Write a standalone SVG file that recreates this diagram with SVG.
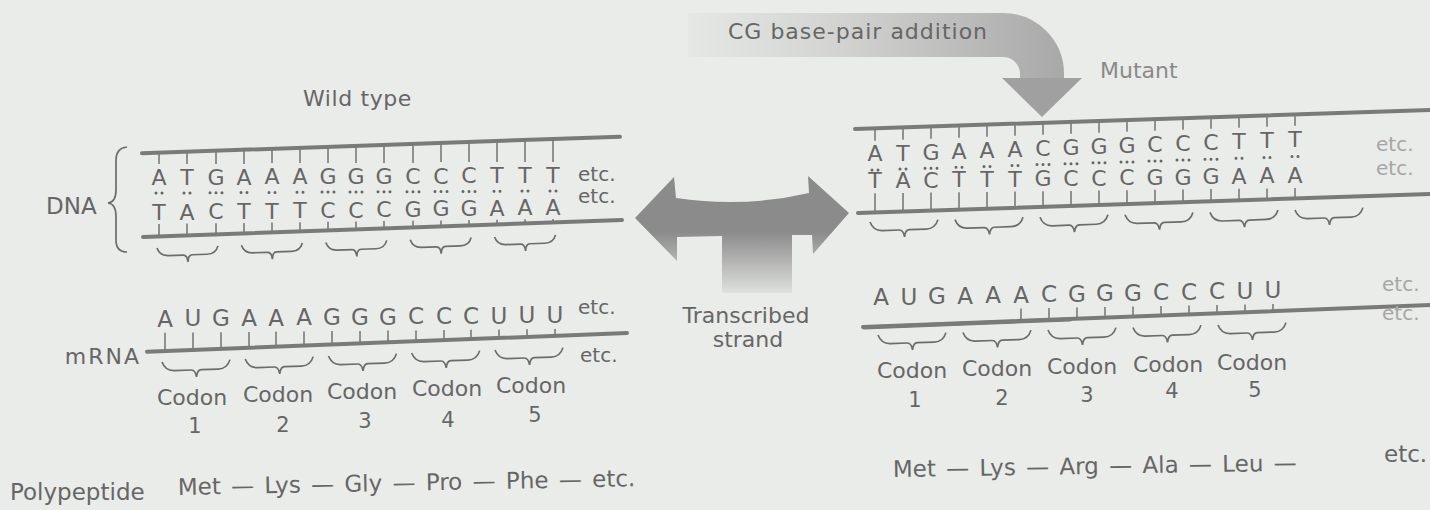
<svg xmlns="http://www.w3.org/2000/svg" xmlns:xlink="http://www.w3.org/1999/xlink" width="1430" height="510" viewBox="0 0 1430 510">
<style>
.t{font-family:"DejaVu Sans","Liberation Sans",sans-serif;fill:#666666}
.base{font-size:22px;text-anchor:middle}
.rna{font-size:23px;text-anchor:middle}
.lbl{font-size:22px}
.mid{text-anchor:middle}
.etc{font-size:20px}
.faint{fill:#a6a6a6}
.pp{font-size:23px;word-spacing:3px}
.strand{stroke:#7a7a7a;stroke-width:4;fill:none;stroke-linecap:round}
.tick{stroke:#7a7a7a;stroke-width:1.6;fill:none}
.dots{stroke:#666666;stroke-width:3;stroke-linecap:round;fill:none}
.brace{stroke:#6c6c6c;stroke-width:1.7;fill:none}
</style>
<defs>
<linearGradient id="gCurve" gradientUnits="userSpaceOnUse" x1="685" y1="0" x2="1065" y2="0">
<stop offset="0" stop-color="#e6e8e5"/>
<stop offset="0.4" stop-color="#d3d4d2"/>
<stop offset="1" stop-color="#a8a8a8"/>
</linearGradient>
<linearGradient id="gDouble" gradientUnits="userSpaceOnUse" x1="0" y1="232" x2="0" y2="295">
<stop offset="0" stop-color="#8b8b8b"/>
<stop offset="1" stop-color="#e2e4e1"/>
</linearGradient>
<path id="bS" d="M0,0 q2.5,8 11,8 h15 q4,0 4.5,7 q0.5,-7 4.5,-7 h15 q8.5,0 11,-8"/>
<path id="bL" d="M0,0 q3,9 12,9 h17 q4,0 5,7 q1,-7 5,-7 h17 q9,0 12,-9"/>
</defs>
<rect width="1430" height="510" fill="#eaece9"/>

<g id="connectors">
<g id="addition-arrow">
<path d="M688,35 H1003 A39,39 0 0 1 1042,74 V82" stroke="url(#gCurve)" stroke-width="44" fill="none"/>
<polygon points="1002,78 1082,78 1042,117" fill="#a0a0a0"/>
</g>
<g id="transcription-arrow">
<path d="M635,218 L674,177 L676,198 Q745,208 809,193 L808,176 L849,213 L813,254 L812,235 L792,235 L792,293 L722,293 L722,236 L677,237 L677,261 Z" fill="url(#gDouble)"/>
</g>
</g>

<g id="label-addition">
<text class="t lbl" x="728" y="39" letter-spacing="1">CG base-pair addition</text>
</g>

<g id="label-wildtype">
<text class="t lbl" x="303" y="106" letter-spacing="0.6">Wild type</text>
</g>

<g id="label-mutant">
<text class="t lbl" x="1100" y="78" style="fill:#8a8a8a">Mutant</text>
</g>

<g id="dna-label">
<text class="t" x="46" y="214" font-size="23">DNA</text>
<path d="M127,147 Q116,148 116,160 V190 Q116,202 108,203 Q116,204 116,216 V240 Q116,252 127,252" class="brace" stroke-width="2"/>
</g>

<g id="dna-wild">
<line class="strand" x1="142" y1="153.3" x2="620" y2="136.7"/>
<line class="strand" x1="143" y1="237" x2="622" y2="220"/>
<path class="tick" d="M159,152.7V164 M187,151.7V164 M216,150.7V164 M244,149.8V164 M272,148.8V163 M300,147.8V163 M328,146.8V163 M356,145.9V163 M384,144.9V163 M413,143.9V163 M441,142.9V162 M469,142V162 M497,141V162 M525,140V162 M553,139V162"/>
<path class="tick" d="M159,224V236.4 M187,223.6V235.4 M216,223.3V234.4 M244,222.9V233.4 M272,222.6V232.4 M300,222.2V231.4 M328,221.8V230.4 M356,221.5V229.4 M384,221.1V228.4 M413,220.8V227.4 M441,220.4V226.4 M469,220V225.4 M497,219.7V224.4 M525,219.3V223.4 M553,219V222.4"/>
<text class="t base" x="159 187 216 244 272 300 328 356 384 413 441 469 497 525 553" y="185 184.9 184.7 184.6 184.4 184.3 184.1 184 183.8 183.7 183.5 183.4 183.2 183.1 182.9">ATGAAAGGGCCCTTT</text>
<text class="t base" x="159 187 216 244 272 300 328 356 384 413 441 469 497 525 553" y="220 219.6 219.3 218.9 218.6 218.2 217.8 217.5 217.1 216.8 216.4 216 215.7 215.3 215">TACTTTCCCGGGAAA</text>
<path class="dots" d="M156,193h0 M162,193h0 M184,192.9h0 M190,192.9h0 M210,192.7h0 M216,192.7h0 M222,192.7h0 M241,192.6h0 M247,192.6h0 M269,192.4h0 M275,192.4h0 M297,192.3h0 M303,192.3h0 M322,192.1h0 M328,192.1h0 M334,192.1h0 M350,192h0 M356,192h0 M362,192h0 M378,191.8h0 M384,191.8h0 M390,191.8h0 M407,191.7h0 M413,191.7h0 M419,191.7h0 M435,191.5h0 M441,191.5h0 M447,191.5h0 M463,191.4h0 M469,191.4h0 M475,191.4h0 M494,191.2h0 M500,191.2h0 M522,191.1h0 M528,191.1h0 M550,190.9h0 M556,190.9h0"/>
<text class="t etc" x="578" y="181">etc.</text>
<text class="t etc" x="578" y="203">etc.</text>
<use href="#bS" class="brace" transform="translate(157,248) rotate(-2)"/>
<use href="#bS" class="brace" transform="translate(241.4,245.2) rotate(-2)"/>
<use href="#bS" class="brace" transform="translate(325.8,242.5) rotate(-2)"/>
<use href="#bS" class="brace" transform="translate(410.2,239.7) rotate(-2)"/>
<use href="#bS" class="brace" transform="translate(494.6,237) rotate(-2)"/>
</g>

<g id="mrna-wild">
<text class="t" x="141" y="364" font-size="22" text-anchor="end" letter-spacing="2">mRNA</text>
<line class="strand" x1="147" y1="351.7" x2="627" y2="333"/>
<path class="tick" d="M165,332.7V351 M193,332.4V349.9 M221,332.2V348.8 M249,331.9V347.7 M276,331.7V346.7 M304,331.4V345.6 M332,331.1V344.5 M360,330.9V343.4 M388,330.6V342.3 M416,330.4V341.2 M444,330.1V340.1 M471,329.8V339.1 M499,329.6V338 M527,329.3V336.9 M555,329.1V335.8"/>
<text class="t rna" x="165 193 221 249 276 304 332 360 388 416 444 471 499 527 555" y="326.7 326.4 326.2 325.9 325.7 325.4 325.1 324.9 324.6 324.4 324.1 323.8 323.6 323.3 323.1">AUGAAAGGGCCCUUU</text>
<text class="t etc" x="578" y="314">etc.</text>
<text class="t etc" x="580" y="362">etc.</text>
<use href="#bL" class="brace" transform="translate(162,362) rotate(-2)"/>
<use href="#bL" class="brace" transform="translate(245.2,359) rotate(-2)"/>
<use href="#bL" class="brace" transform="translate(328.5,356) rotate(-2)"/>
<use href="#bL" class="brace" transform="translate(411.7,353) rotate(-2)"/>
<use href="#bL" class="brace" transform="translate(495,350) rotate(-2)"/>
</g>

<g id="codons-wild">
<text class="t lbl mid" x="192" y="405">Codon</text>
<text class="t lbl mid" x="278" y="402.1">Codon</text>
<text class="t lbl mid" x="362" y="399.2">Codon</text>
<text class="t lbl mid" x="447" y="396.3">Codon</text>
<text class="t lbl mid" x="531" y="393.4">Codon</text>
<text class="t mid" font-size="21" x="195" y="433">1</text>
<text class="t mid" font-size="21" x="283" y="432">2</text>
<text class="t mid" font-size="21" x="365" y="428">3</text>
<text class="t mid" font-size="21" x="448" y="427">4</text>
<text class="t mid" font-size="21" x="535" y="422">5</text>
</g>

<g id="polypeptide-wild">
<text class="t" x="10" y="500" font-size="23">Polypeptide</text>
<text class="t pp" x="178" y="495" word-spacing="4.5" transform="rotate(-1.1 178 495)">Met — Lys — Gly — Pro — Phe — etc.</text>
</g>

<g id="label-transcribed">
<text class="t lbl mid" x="746" y="323">Transcribed</text>
<text class="t lbl mid" x="748" y="347">strand</text>
</g>

<g id="dna-mutant">
<line class="strand" x1="855" y1="129" x2="1430" y2="110"/>
<line class="strand" x1="858" y1="213" x2="1430" y2="194"/>
<path class="tick" d="M875,128.3V140.7 M903,127.4V139.7 M931,126.5V138.7 M959,125.6V137.7 M987,124.6V136.7 M1015,123.7V135.7 M1043,122.8V134.7 M1071,121.9V133.7 M1099,120.9V132.7 M1127,120V131.7 M1155,119.1V130.7 M1183,118.2V129.7 M1211,117.3V128.7 M1239,116.3V127.7 M1267,115.4V126.7 M1295,114.5V125.7"/>
<path class="tick" d="M875,193.3V212.4 M903,193V211.5 M931,192.6V210.6 M959,192.3V209.6 M987,191.9V208.7 M1015,191.6V207.8 M1043,191.2V206.9 M1071,190.9V205.9 M1099,190.5V205 M1127,190.2V204.1 M1155,189.8V203.1 M1183,189.5V202.2 M1211,189.1V201.3 M1239,188.8V200.4 M1267,188.4V199.4 M1295,188.1V198.5"/>
<text class="t base" x="875 903 931" y="161.4 160.6 159.7">ATG</text>
<text class="t base" x="959 987 1015" y="158.7 157.7 156.7">AAA</text>
<text class="t base" x="1043 1071 1099" y="155.7 154.7 153.7">CGG</text>
<text class="t base" x="1127 1155 1183" y="152.7 151.7 150.7">GCC</text>
<text class="t base" x="1211 1239 1267" y="149.7 148.7 147.7">CTT</text>
<text class="t base" x="1295" y="146.7">T</text>
<text class="t base" x="875 903 931" y="188.3 188 187.6">TAC</text>
<text class="t base" x="959 987 1015" y="187.3 186.9 186.6">TTT</text>
<text class="t base" x="1043 1071 1099" y="186.2 185.9 185.5">GCC</text>
<text class="t base" x="1127 1155 1183" y="185.2 184.8 184.5">CGG</text>
<text class="t base" x="1211 1239 1267" y="184.1 183.8 183.4">GAA</text>
<text class="t base" x="1295" y="183.1">A</text>
<path class="dots" d="M872,170h0 M878,170h0 M900,169.1h0 M906,169.1h0 M925,168.2h0 M931,168.2h0 M937,168.2h0 M956,167.3h0 M962,167.3h0 M984,166.4h0 M990,166.4h0 M1012,165.5h0 M1018,165.5h0 M1037,164.6h0 M1043,164.6h0 M1049,164.6h0 M1065,163.7h0 M1071,163.7h0 M1077,163.7h0 M1093,162.8h0 M1099,162.8h0 M1105,162.8h0 M1121,161.9h0 M1127,161.9h0 M1133,161.9h0 M1149,161h0 M1155,161h0 M1161,161h0 M1177,160.1h0 M1183,160.1h0 M1189,160.1h0 M1205,159.2h0 M1211,159.2h0 M1217,159.2h0 M1236,158.3h0 M1242,158.3h0 M1264,157.4h0 M1270,157.4h0 M1292,156.5h0 M1298,156.5h0"/>
<text class="t etc faint" x="1376" y="151">etc.</text>
<text class="t etc faint" x="1376" y="175">etc.</text>
<use href="#bL" class="brace" transform="translate(870,222) rotate(-2)"/>
<use href="#bL" class="brace" transform="translate(955,219.6) rotate(-2)"/>
<use href="#bL" class="brace" transform="translate(1040,217.2) rotate(-2)"/>
<use href="#bL" class="brace" transform="translate(1125,214.8) rotate(-2)"/>
<use href="#bL" class="brace" transform="translate(1210,212.4) rotate(-2)"/>
<use href="#bL" class="brace" transform="translate(1295,210) rotate(-2)"/>
</g>

<g id="mrna-mutant">
<line class="strand" x1="863" y1="327" x2="1430" y2="305"/>
<line class="strand" x1="864" y1="327.5" x2="1070" y2="319.5" stroke-width="5.5"/>
<path class="tick" d="M1021,308.5V320.9 M1049,308V319.8 M1077,307.5V318.7 M1105,307V317.6 M1133,306.5V316.5 M1161,306V315.4 M1189,305.5V314.4 M1217,305V313.3 M1245,304.5V312.2 M1273,304V311.1"/>
<text class="t rna" x="881 909 937 965 993 1021 1049 1077 1105 1133 1161 1189 1217 1245 1273" y="305 304.5 304 303.5 303 302.5 302 301.5 301 300.5 300 299.5 299 298.5 298">AUGAAACGGGCCCUU</text>
<text class="t etc faint" x="1382" y="291">etc.</text>
<text class="t etc faint" x="1382" y="320">etc.</text>
<use href="#bL" class="brace" transform="translate(878,335) rotate(-2)"/>
<use href="#bL" class="brace" transform="translate(963,332.5) rotate(-2)"/>
<use href="#bL" class="brace" transform="translate(1048,330) rotate(-2)"/>
<use href="#bL" class="brace" transform="translate(1133,327.5) rotate(-2)"/>
<use href="#bL" class="brace" transform="translate(1218,325) rotate(-2)"/>
</g>

<g id="codons-mutant">
<text class="t lbl mid" x="912" y="378">Codon</text>
<text class="t lbl mid" x="997" y="376">Codon</text>
<text class="t lbl mid" x="1082" y="374">Codon</text>
<text class="t lbl mid" x="1168" y="372">Codon</text>
<text class="t lbl mid" x="1252" y="370">Codon</text>
<text class="t mid" font-size="21" x="915" y="407">1</text>
<text class="t mid" font-size="21" x="1002" y="405">2</text>
<text class="t mid" font-size="21" x="1087" y="402">3</text>
<text class="t mid" font-size="21" x="1172" y="398">4</text>
<text class="t mid" font-size="21" x="1255" y="397">5</text>
</g>

<g id="polypeptide-mutant">
<text class="t pp" x="893" y="477" word-spacing="3.5" transform="rotate(-0.9 893 477)">Met — Lys — Arg — Ala — Leu —</text>
<text class="t pp" x="1384" y="462">etc.</text>
</g>
</svg>
